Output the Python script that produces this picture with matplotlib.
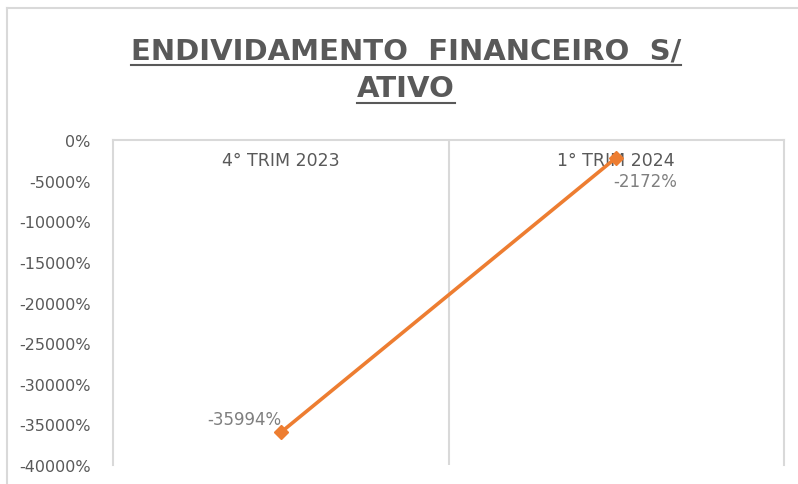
import matplotlib
matplotlib.use("Agg")
import matplotlib.pyplot as plt
from matplotlib.lines import Line2D
from matplotlib.ticker import FuncFormatter

# dados
categorias = ["4° TRIM 2023", "1° TRIM 2024"]
valores = [-35994, -2172]
rotulos = ["-35994%", "-2172%"]
y_ticks = list(range(-40000, 1, 5000))

cinza = "#595959"
grade = "#d9d9d9"
laranja = "#ED7D31"

fig = plt.figure(figsize=(7.98, 4.85), dpi=100)
ax = fig.add_axes([113 / 798, 1 - 466 / 485, (784 - 113) / 798, (466 - 141) / 485])

x = list(range(len(categorias)))
ax.plot(x, valores, color=laranja, lw=2.6, marker="D", ms=7.5, zorder=3)

ax.set_xlim(-0.5, len(categorias) - 0.5)
ax.set_ylim(-40000, 0)
ax.set_yticks(y_ticks)
ax.yaxis.set_major_formatter(FuncFormatter(lambda v, p: f"{int(v)}%"))
ax.tick_params(axis="y", length=0, pad=16, labelsize=11.5, labelcolor=cinza)

# rótulos de categoria no topo, dentro da área
ax.xaxis.tick_top()
ax.set_xticks(x)
ax.set_xticklabels(categorias)
ax.tick_params(axis="x", length=0, pad=-21, labelsize=12.5, labelcolor=cinza)
for lbl in ax.get_xticklabels():
    lbl.set_fontfamily("DejaVu Sans")

# grade vertical entre categorias
ax.set_xticks([0.5], minor=True)
ax.tick_params(axis="x", which="minor", length=0)
ax.grid(which="minor", axis="x", color=grade, lw=1.5)

for s in ["left", "right", "top"]:
    ax.spines[s].set_color(grade)
    ax.spines[s].set_linewidth(1.5)
ax.spines["bottom"].set_visible(False)

# rótulos de dados
ax.annotate(rotulos[0], (x[0], valores[0]), xytext=(-26, 10), textcoords="offset points",
            ha="center", va="center", fontsize=12, color="#7f7f7f")
ax.annotate(rotulos[1], (x[1], valores[1]), xytext=(21, -17), textcoords="offset points",
            ha="center", va="center", fontsize=12, color="#7f7f7f")

# título sublinhado
t1 = fig.text(0.509, 1 - 51 / 485, "ENDIVIDAMENTO  FINANCEIRO  S/", ha="center", va="center",
              fontsize=21, fontweight="bold", color=cinza, family="DejaVu Sans")
t2 = fig.text(0.509, 1 - 89 / 485, "ATIVO", ha="center", va="center",
              fontsize=21, fontweight="bold", color=cinza, family="DejaVu Sans")
fig.canvas.draw()
r = fig.canvas.get_renderer()
for t in (t1, t2):
    bb = t.get_window_extent(r).transformed(fig.transFigure.inverted())
    fig.add_artist(Line2D([bb.x0, bb.x1], [bb.y0 - 0.002, bb.y0 - 0.002], color=cinza, lw=1.5))

# borda externa do gráfico
fig.add_artist(Line2D([7 / 798, 7 / 798], [0, 1 - 9 / 485], color=grade, lw=1.5))
fig.add_artist(Line2D([7 / 798, 1], [1 - 9 / 485, 1 - 9 / 485], color=grade, lw=1.5))

fig.savefig("out.png", dpi=100)
